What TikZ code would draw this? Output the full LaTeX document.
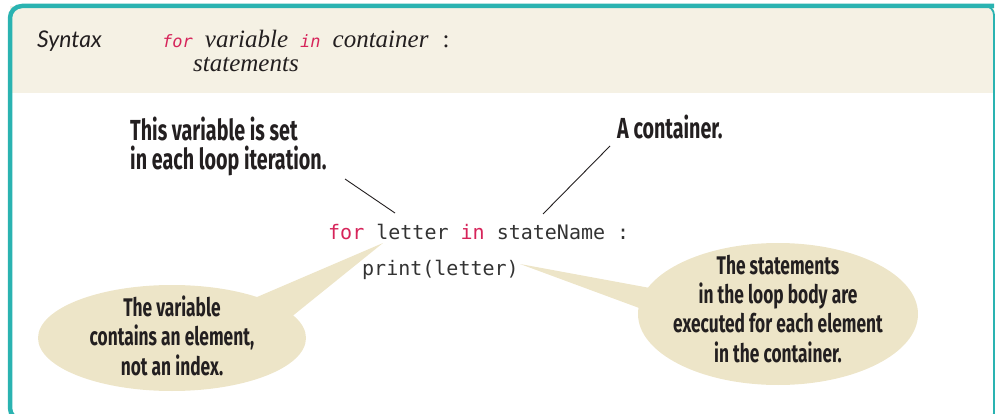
\documentclass[tikz,border=0pt]{standalone}
\usepackage{fontspec}
\newfontfamily\annfont[FakeStretch=0.68]{Fira Sans}
\newfontfamily\codefont{DejaVu Sans Mono}
\newfontfamily\synfont{Lato}
\newfontfamily\itfont{Liberation Serif}
\definecolor{teal}{HTML}{2AB3B1}
\definecolor{headbg}{HTML}{F5F1E4}
\definecolor{bub}{HTML}{EDE5C8}
\definecolor{kw}{HTML}{D6245A}
\definecolor{ink}{HTML}{231F20}
\definecolor{codeink}{HTML}{333333}
\newcommand{\kwd}[1]{{\codefont\fontsize{17}{20}\selectfont\color{kw}#1}}
\tikzset{
  ann/.style={font=\annfont\bfseries\fontsize{29}{29}\selectfont, text=ink, align=left, inner sep=0pt},
  bubtext/.style={font=\annfont\bfseries\fontsize{25.5}{29.3}\selectfont, text=ink, align=center, inner sep=0pt},
  code/.style={font=\codefont\fontsize{20}{24}\selectfont, text=codeink, inner sep=0pt, anchor=base west},
  pointer/.style={draw=ink, line width=0.9pt},
  synit/.style={anchor=base west, inner sep=0pt, font=\itfont\itshape\fontsize{25}{27}\selectfont, text=ink},
}
\begin{document}
\begin{tikzpicture}[x=1pt,y=-1pt]
\useasboundingbox (0,0) rectangle (996,414);
\clip (0,0) rectangle (996,414);
% header background
\fill[headbg] (10,6) rectangle (994,93);
% frame
\draw[teal, line width=1.8pt, rounded corners=9] (985,6) -- (994,6) -- (994,422) -- (960,422);
\draw[teal, line width=4.5pt, rounded corners=12] (994,6) -- (10,6) -- (10,420) -- (40,420);
% header text
\node[anchor=base west, inner sep=0pt, font=\synfont\itshape\fontsize{23}{26}\selectfont, text=ink] (syn) at (37,48) {Syntax};
\node[synit] (synline) at (162,48)
  {\kwd{for}\hspace{12pt}variable\hspace{12pt}\kwd{in}\hspace{12pt}container\hspace{14pt}\upshape:};
\node[synit] (stm) at (193,72) {statements};
% bubbles
\coordinate (ltip) at (383,243);
\coordinate (rtip) at (520,264);
\fill[bub] (ltip) -- (250,300) -- (290,318) -- cycle;
\fill[bub] (rtip) -- (650,288) -- (650,312) -- cycle;
\fill[bub] (172,338) ellipse [x radius=134, y radius=53];
\fill[bub] (778,314) ellipse [x radius=140, y radius=71];
% code
\node[code] (line1) at (328,240) {{\color{kw}for} letter {\color{kw}in} stateName :};
\node[code] (line2) at (362,275) {print(letter)};
% annotations
\node[ann, anchor=base west] (varnote) at (130,170) {This variable is set\\in each loop iteration.};
\node[ann, anchor=base west] (contnote) at (617,139) {A container.};
\coordinate (p1a) at (345,179);
\coordinate (p1b) at (395,213);
\coordinate (p2a) at (610,146);
\coordinate (p2b) at (543,214);
\draw[pointer] (p1a) -- (p1b);
\draw[pointer] (p2a) -- (p2b);
\node[bubtext, anchor=base] (lbt) at (172,375) {The variable\\contains an element,\\not an index.};
\node[bubtext, anchor=base] (rbt) at (778,362) {The statements\\in the loop body are\\executed for each element\\in the container.};
\end{tikzpicture}
\end{document}
